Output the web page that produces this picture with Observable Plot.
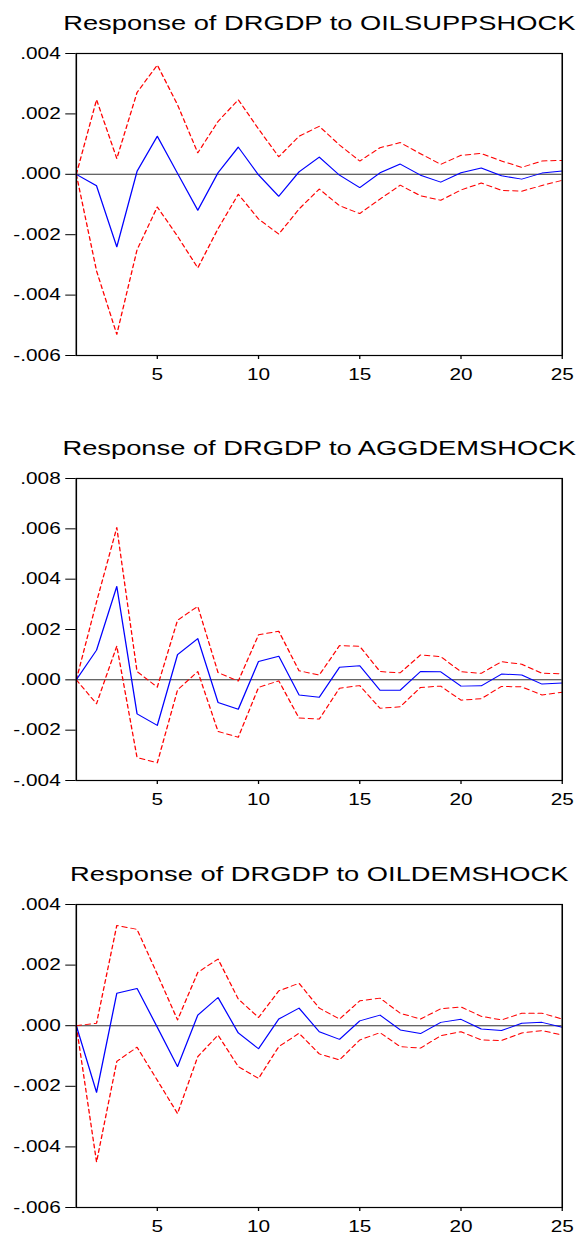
<!DOCTYPE html>
<html>
<head>
<meta charset="utf-8">
<script src="https://cdn.jsdelivr.net/npm/d3@7"></script>
<script src="https://cdn.jsdelivr.net/npm/@observablehq/plot@0.6"></script>
<style>
  html, body { margin: 0; padding: 0; background: #ffffff; }
  #root svg { display: block; }
</style>
</head>
<body>
<div id="root"></div>
<script>
// ---------- data ----------
const periods = [1,2,3,4,5,6,7,8,9,10,11,12,13,14,15,16,17,18,19,20,21,22,23,24,25];
const xTicks = [5,10,15,20,25];

const titles = [
  "Response of DRGDP to OILSUPPSHOCK",
  "Response of DRGDP to AGGDEMSHOCK",
  "Response of DRGDP to OILDEMSHOCK"
];

// Panel 1: OILSUPPSHOCK
const oilSuppResp  = [0,-0.00038,-0.0024,0.0001,0.00126,0.00003,-0.00119,0.00005,0.0009,-0.00002,-0.00073,0.00008,0.00057,-0.00003,-0.00044,0.00005,0.00034,-0.00003,-0.00026,0.00005,0.00021,-0.00005,-0.00016,0.00004,0.00011];
const oilSuppUpper = [0,0.00247,0.00052,0.00271,0.00362,0.0023,0.00071,0.00175,0.00247,0.0015,0.00058,0.00126,0.00159,0.00097,0.00044,0.00088,0.00105,0.00068,0.00033,0.00063,0.00069,0.00044,0.00023,0.00044,0.00046];
const oilSuppLower = [0,-0.0032,-0.0053,-0.0025,-0.00108,-0.00205,-0.0031,-0.0018,-0.00066,-0.00148,-0.00198,-0.00115,-0.00049,-0.00104,-0.0013,-0.00082,-0.00036,-0.00071,-0.00086,-0.00052,-0.00029,-0.00053,-0.00056,-0.00037,-0.0002];
const yTicks1 = [-0.006,-0.004,-0.002,0,0.002,0.004];

// Panel 2: AGGDEMSHOCK
const aggDemResp  = [0,0.00118,0.00371,-0.00135,-0.00181,0.001,0.00164,-0.0009,-0.00117,0.00073,0.00094,-0.0006,-0.00069,0.0005,0.00056,-0.00041,-0.00041,0.00033,0.00032,-0.00025,-0.00024,0.00023,0.00019,-0.00017,-0.00013];
const aggDemUpper = [0,0.0031,0.00605,0.00033,-0.00029,0.00237,0.00292,0.00029,-0.00005,0.00179,0.00193,0.00036,0.00019,0.00136,0.00133,0.00033,0.00028,0.00099,0.00092,0.00032,0.00026,0.00072,0.00062,0.00026,0.00024];
const aggDemLower = [0,-0.00095,0.00134,-0.00309,-0.0033,-0.0004,0.00033,-0.00205,-0.00228,-0.0003,-0.00004,-0.00152,-0.00156,-0.00033,-0.00023,-0.00113,-0.00107,-0.0003,-0.00025,-0.00081,-0.00075,-0.00026,-0.00028,-0.0006,-0.00049];
const yTicks2 = [-0.004,-0.002,0,0.002,0.004,0.006,0.008];

// Panel 3: OILDEMSHOCK
const oilDemResp  = [0,-0.0022,0.00107,0.00123,-0.00005,-0.00135,0.00035,0.00093,-0.00024,-0.00076,0.00022,0.00058,-0.0002,-0.00045,0.00016,0.00035,-0.00014,-0.00026,0.00011,0.00021,-0.00011,-0.00016,0.00008,0.00011,-0.00005];
const oilDemUpper = [0,0.00008,0.00331,0.00318,0.0017,0.00019,0.00176,0.0022,0.00088,0.00027,0.00115,0.0014,0.00058,0.00022,0.00082,0.00091,0.00041,0.00022,0.00056,0.00062,0.00031,0.00019,0.00041,0.00041,0.00022];
const oilDemLower = [0,-0.0045,-0.00118,-0.00071,-0.0018,-0.0029,-0.00102,-0.00031,-0.00135,-0.00174,-0.00069,-0.00025,-0.00093,-0.00113,-0.00047,-0.00023,-0.00069,-0.00074,-0.00033,-0.0002,-0.00047,-0.00049,-0.00024,-0.00016,-0.00031];
const yTicks3 = [-0.006,-0.004,-0.002,0,0.002,0.004];

// ---------- drawing ----------
const PAGE_W = 582;
const STRETCH = 1.3;            // the reference is horizontally stretched
const VW = PAGE_W / STRETCH;    // virtual width before stretching

const fmt = d => (d < 0 ? "-" : "") + Math.abs(d).toFixed(3).slice(1);

function panel(title, resp, upper, lower, yTicks, H, mTop, mBottom) {
  const rows = periods.map((t, i) => ({t, resp: resp[i], upper: upper[i], lower: lower[i]}));
  const svg = Plot.plot({
    width: VW,
    height: H,
    marginLeft: 58.2,
    marginRight: 15.7,
    marginTop: mTop,
    marginBottom: mBottom,
    style: {fontFamily: "'Liberation Sans', Arial, sans-serif", fontSize: "16px", color: "#000", background: "#fff"},
    x: {domain: [1, 25], ticks: xTicks, tickFormat: d => String(d), tickSize: 4, tickPadding: 9, label: null},
    y: {domain: [yTicks[0], yTicks[yTicks.length - 1]], ticks: yTicks, tickFormat: fmt, tickSize: 8, tickPadding: 4, label: null},
    marks: [
      Plot.ruleY([0], {stroke: "#333", strokeWidth: 1}),
      Plot.line(rows, {x: "t", y: "upper", stroke: "#ff0000", strokeWidth: 1, strokeDasharray: "4,3"}),
      Plot.line(rows, {x: "t", y: "lower", stroke: "#ff0000", strokeWidth: 1, strokeDasharray: "4,3"}),
      Plot.line(rows, {x: "t", y: "resp", stroke: "#0000ff", strokeWidth: 1}),
      Plot.frame({stroke: "#000", strokeWidth: 1.2}),
      Plot.text([title], {text: d => d, frameAnchor: "top", dy: -38, fontSize: 21, fill: "#000"})
    ]
  });
  svg.setAttribute("width", PAGE_W);
  svg.setAttribute("height", H);
  svg.setAttribute("preserveAspectRatio", "none");
  svg.style.width = PAGE_W + "px";
  svg.style.height = H + "px";
  svg.style.maxWidth = "none";
  return svg;
}

const root = document.getElementById("root");
root.appendChild(panel(titles[0], oilSuppResp, oilSuppUpper, oilSuppLower, yTicks1, 388, 53, 33));
root.appendChild(panel(titles[1], aggDemResp, aggDemUpper, aggDemLower, yTicks2, 425, 90, 33));
root.appendChild(panel(titles[2], oilDemResp, oilDemUpper, oilDemLower, yTicks3, 425, 91, 31));
</script>
</body>
</html>
